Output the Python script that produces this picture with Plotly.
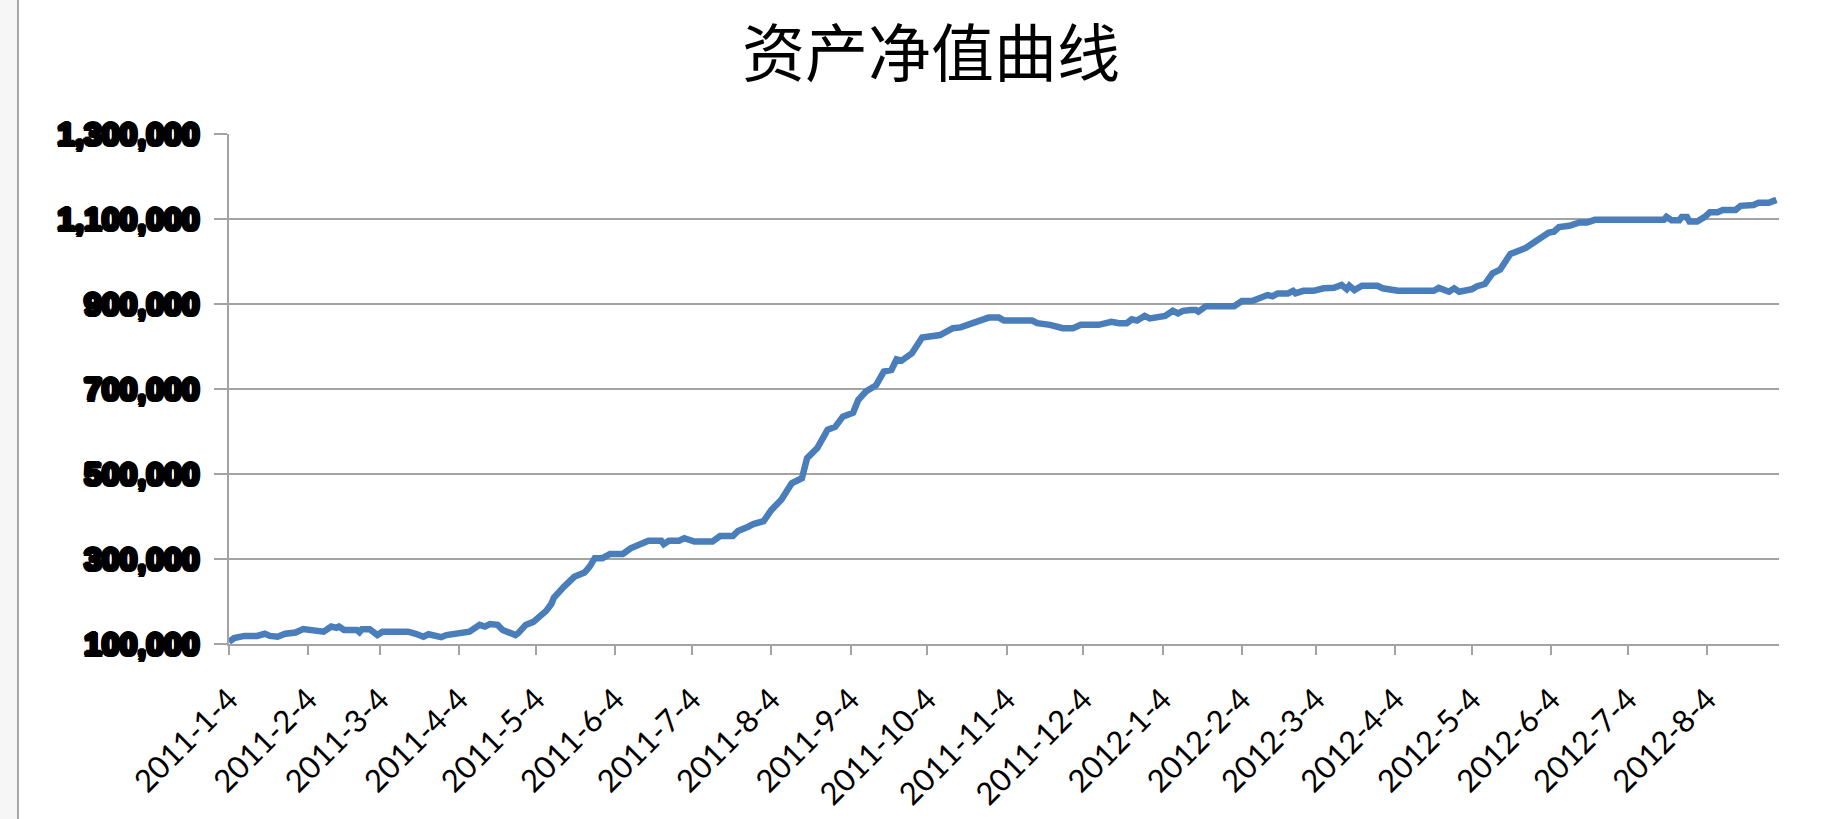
import plotly.graph_objects as go

title_text = "资产净值曲线"

dates = [
    "2011-01-04", "2011-01-06", "2011-01-10", "2011-01-15", "2011-01-18", "2011-01-20", "2011-01-23",
    "2011-01-26", "2011-01-30", "2011-02-02", "2011-02-10", "2011-02-13", "2011-02-15", "2011-02-16",
    "2011-02-18", "2011-02-23", "2011-02-24", "2011-02-25", "2011-02-28", "2011-03-03", "2011-03-05",
    "2011-03-15", "2011-03-18", "2011-03-21", "2011-03-23", "2011-03-26", "2011-03-28", "2011-03-30",
    "2011-04-04", "2011-04-06", "2011-04-08", "2011-04-12", "2011-04-14", "2011-04-16", "2011-04-19",
    "2011-04-21", "2011-04-26", "2011-04-27", "2011-04-30", "2011-05-03", "2011-05-05", "2011-05-08",
    "2011-05-10", "2011-05-11", "2011-05-15", "2011-05-19", "2011-05-23", "2011-05-25", "2011-05-27",
    "2011-05-30", "2011-06-02", "2011-06-07", "2011-06-10", "2011-06-14", "2011-06-17", "2011-06-22",
    "2011-06-23", "2011-06-25", "2011-06-29", "2011-07-01", "2011-07-05", "2011-07-12", "2011-07-15",
    "2011-07-20", "2011-07-22", "2011-07-26", "2011-07-28", "2011-08-01", "2011-08-04", "2011-08-08",
    "2011-08-10", "2011-08-12", "2011-08-16", "2011-08-18", "2011-08-22", "2011-08-26", "2011-08-29",
    "2011-09-01", "2011-09-05", "2011-09-07", "2011-09-10", "2011-09-12", "2011-09-14", "2011-09-17",
    "2011-09-20", "2011-09-22", "2011-09-24", "2011-09-28", "2011-10-02", "2011-10-09", "2011-10-12",
    "2011-10-14", "2011-10-17", "2011-10-20", "2011-10-23", "2011-10-26", "2011-10-28", "2011-11-01",
    "2011-11-03", "2011-11-14", "2011-11-16", "2011-11-21", "2011-11-24", "2011-11-26", "2011-11-30",
    "2011-12-03", "2011-12-10", "2011-12-15", "2011-12-18", "2011-12-21", "2011-12-23", "2011-12-25",
    "2011-12-28", "2011-12-30", "2012-01-05", "2012-01-08", "2012-01-10", "2012-01-12", "2012-01-15",
    "2012-01-17", "2012-01-18", "2012-01-21", "2012-02-01", "2012-02-04", "2012-02-08", "2012-02-10",
    "2012-02-14", "2012-02-16", "2012-02-18", "2012-02-22", "2012-02-24", "2012-02-25", "2012-02-28",
    "2012-03-03", "2012-03-07", "2012-03-11", "2012-03-14", "2012-03-16", "2012-03-17", "2012-03-19",
    "2012-03-22", "2012-03-28", "2012-03-30", "2012-04-05", "2012-04-19", "2012-04-21", "2012-04-25",
    "2012-04-27", "2012-04-29", "2012-05-04", "2012-05-06", "2012-05-09", "2012-05-12", "2012-05-15",
    "2012-05-17", "2012-05-19", "2012-05-23", "2012-05-25", "2012-05-28", "2012-05-30", "2012-06-03",
    "2012-06-05", "2012-06-07", "2012-06-11", "2012-06-15", "2012-06-18", "2012-06-21", "2012-07-18",
    "2012-07-19", "2012-07-21", "2012-07-24", "2012-07-25", "2012-07-27", "2012-07-28", "2012-07-31",
    "2012-08-03", "2012-08-05", "2012-08-08", "2012-08-10", "2012-08-15", "2012-08-17", "2012-08-22",
    "2012-08-24", "2012-08-28", "2012-08-31",
]

net_value = [
    105000, 114000, 119000, 119000, 124000, 119000, 117000,
    124000, 127000, 135000, 129000, 141000, 138000, 141000,
    133000, 133000, 128000, 135000, 135000, 121000, 129000,
    129000, 124000, 117000, 123000, 121000, 116000, 121000,
    125000, 129000, 129000, 145000, 141000, 147000, 145000,
    133000, 121000, 125000, 145000, 152000, 161000, 178000,
    194000, 209000, 235000, 258000, 268000, 282000, 302000,
    302000, 312000, 312000, 325000, 333000, 343000, 343000,
    335000, 343000, 343000, 349000, 341000, 341000, 354000,
    354000, 366000, 376000, 382000, 389000, 415000, 440000,
    462000, 478000, 490000, 537000, 561000, 604000, 611000,
    635000, 644000, 674000, 694000, 702000, 709000, 741000,
    745000, 770000, 767000, 784000, 821000, 827000, 835000,
    843000, 845000, 851000, 858000, 862000, 868000, 868000,
    861000, 861000, 855000, 851000, 848000, 843000, 843000,
    851000, 851000, 858000, 855000, 855000, 864000, 861000,
    872000, 866000, 872000, 884000, 878000, 884000, 886000,
    886000, 882000, 895000, 895000, 907000, 907000, 913000,
    921000, 918000, 925000, 925000, 931000, 925000, 931000,
    931000, 937000, 938000, 945000, 935000, 943000, 933000,
    943000, 943000, 937000, 931000, 931000, 938000, 929000,
    937000, 929000, 935000, 942000, 947000, 972000, 981000,
    997000, 1018000, 1027000, 1032000, 1044000, 1051000, 1068000,
    1070000, 1081000, 1084000, 1092000, 1092000, 1098000, 1098000,
    1105000, 1097000, 1097000, 1105000, 1105000, 1094000, 1094000,
    1105000, 1116000, 1116000, 1121000, 1121000, 1131000, 1133000,
    1138000, 1138000, 1145000,
]

x_tick_dates = [
    "2011-01-04", "2011-02-04", "2011-03-04", "2011-04-04", "2011-05-04", "2011-06-04",
    "2011-07-04", "2011-08-04", "2011-09-04", "2011-10-04", "2011-11-04", "2011-12-04",
    "2012-01-04", "2012-02-04", "2012-03-04", "2012-04-04", "2012-05-04", "2012-06-04",
    "2012-07-04", "2012-08-04",
]
x_tick_labels = [
    "2011-1-4", "2011-2-4", "2011-3-4", "2011-4-4", "2011-5-4", "2011-6-4",
    "2011-7-4", "2011-8-4", "2011-9-4", "2011-10-4", "2011-11-4", "2011-12-4",
    "2012-1-4", "2012-2-4", "2012-3-4", "2012-4-4", "2012-5-4", "2012-6-4",
    "2012-7-4", "2012-8-4",
]
y_tick_values = [100000, 300000, 500000, 700000, 900000, 1100000, 1300000]
x_range = ["2011-01-04", "2012-09-01"]
y_range = [100000, 1300000]

W, H = 1821, 819
ML, MR, MT, MB = 229, 42, 134, 175
PW, PH = W - ML - MR, H - MT - MB

def px_x(p):
    return (p - ML) / PW

def px_y(p):
    return (H - MB - p) / PH

grey = "#a3a3a3"
bold_shadow = ("2px 0 0 #000, -2px 0 0 #000, 0 2px 0 #000, 0 -2px 0 #000, "
               "1.5px 1.5px 0 #000, -1.5px -1.5px 0 #000, 1.5px -1.5px 0 #000, -1.5px 1.5px 0 #000")

fig = go.Figure()
fig.add_trace(go.Scatter(
    x=dates, y=net_value, mode="lines",
    line=dict(color="#4a7ebb", width=6.5, shape="linear"),
    showlegend=False, hoverinfo="x+y",
))

fig.update_layout(
    width=W, height=H,
    margin=dict(l=ML, r=MR, t=MT, b=MB, autoexpand=False),
    paper_bgcolor="white", plot_bgcolor="white",
    title=dict(
        text=title_text, x=931 / W, xref="container", xanchor="center",
        y=1 - 54 / H, yref="container", yanchor="middle",
        font=dict(family="Noto Sans CJK SC", size=63, color="black"),
    ),
    xaxis=dict(
        type="date", range=x_range,
        tickmode="array", tickvals=x_tick_dates, ticktext=x_tick_labels,
        tickangle=-45, ticks="outside", ticklen=9, tickwidth=2, tickcolor=grey,
        showline=True, linecolor=grey, linewidth=2,
        showgrid=False, zeroline=False,
        tickfont=dict(family="Lato", size=31, color="black"),
        ticklabelstandoff=14,
    ),
    yaxis=dict(
        range=y_range, tickmode="array", tickvals=y_tick_values, tickformat=",d",
        ticks="outside", ticklen=13, tickwidth=2, tickcolor=grey,
        showline=True, linecolor=grey, linewidth=2,
        showgrid=True, gridcolor=grey, gridwidth=2, zeroline=False,
        tickfont=dict(family="Liberation Sans", size=32, color="black", weight="bold",
                      shadow=bold_shadow),
        ticklabelstandoff=8,
    ),
    shapes=[
        dict(type="rect", xref="paper", yref="paper",
             x0=px_x(0), x1=px_x(18), y0=px_y(H), y1=px_y(0),
             fillcolor="#f6f6f6", line=dict(width=0), layer="below"),
        dict(type="line", xref="paper", yref="paper",
             x0=px_x(18), x1=px_x(18), y0=px_y(H), y1=px_y(0),
             line=dict(color="#a8a8a8", width=2)),
    ],
)

fig.write_html(
    "out.html",
    config={"displayModeBar": False},
    post_script="document.body.style.margin='0';document.body.style.overflow='hidden';",
)
